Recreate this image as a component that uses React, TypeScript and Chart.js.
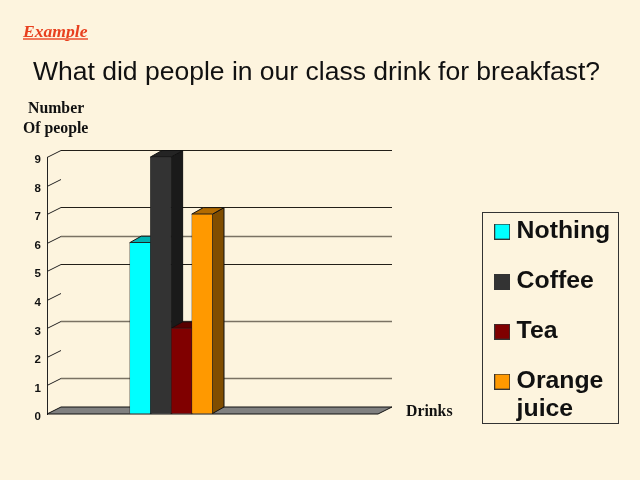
import React, { useEffect, useRef } from "react";
import { Chart, registerables } from "chart.js";

Chart.register(...registerables);

const slots = ["", "Drinks", "", ""];
const nothingValues = [null, 6, null, null];
const coffeeValues = [null, 9, null, null];
const teaValues = [null, 3, null, null];
const juiceValues = [null, 7, null, null];
const seriesNames = ["Nothing", "Coffee", "Tea", ["Orange", "juice"]];
const frontColors = ["#00FFFF", "#333333", "#800000", "#FF9900"];
const sideColors = ["#008080", "#1A1A1A", "#400000", "#804D00"];
const topColors = ["#00B3B3", "#242424", "#590000", "#B36B00"];
const backLineTicks = [1, 3, 5, 6, 7, 9];
const greyBackLineTicks = [1, 3, 6];
const yTicks = [0, 1, 2, 3, 4, 5, 6, 7, 8, 9];

const PAGE = "#FDF4DE";
const WALL_DX = 14;
const WALL_DY = 7;
const BAR_DX = 11.5;
const BAR_DY = 6.5;
const CHART_RIGHT = 378;

function swatch(color: string) {
  const c = document.createElement("canvas");
  c.width = 16;
  c.height = 16;
  const x = c.getContext("2d")!;
  x.fillStyle = color;
  x.fillRect(0, 0, 16, 16);
  x.strokeStyle = "#333";
  x.strokeRect(0.5, 0.5, 15, 15);
  return c;
}

function poly(ctx: CanvasRenderingContext2D, pts: number[][], fill: string) {
  ctx.beginPath();
  pts.forEach(([x, y], i) => (i ? ctx.lineTo(x, y) : ctx.moveTo(x, y)));
  ctx.closePath();
  ctx.fillStyle = fill;
  ctx.fill();
  ctx.strokeStyle = "#111";
  ctx.lineWidth = 1;
  ctx.stroke();
}

const scene = {
  id: "scene",
  beforeLayout(chart: any) {
    const l = chart.legend;
    if (l && !l.__patched) {
      l.__patched = true;
      const fit = l.fit;
      l.fit = function () {
        fit.call(this);
        this.width = 640 - CHART_RIGHT;
      };
    }
  },
  afterLayout(chart: any) {
    const l = chart.legend;
    l.left = 475;
    l.right = 640;
    l.top = 194;
    l.bottom = 460;
  },
  beforeDatasetsDraw(chart: any) {
    const ctx: CanvasRenderingContext2D = chart.ctx;
    const { left, right } = chart.chartArea;
    const y = chart.scales.y;
    const y0 = y.getPixelForValue(0);
    ctx.save();
    // floor
    poly(ctx, [[left, y0], [right, y0], [right + WALL_DX, y0 - WALL_DY], [left + WALL_DX, y0 - WALL_DY]], "#808080");
    // wall lines
    yTicks.slice(1).forEach((t) => {
      const py = Math.round(y.getPixelForValue(t)) + 0.5;
      ctx.strokeStyle = "#222";
      ctx.lineWidth = 1;
      ctx.beginPath();
      ctx.moveTo(left, py);
      ctx.lineTo(left + WALL_DX, py - WALL_DY);
      ctx.stroke();
      if (backLineTicks.includes(t)) {
        const grey = greyBackLineTicks.includes(t);
        ctx.strokeStyle = grey ? "#7A7263" : "#221F18";
        ctx.lineWidth = grey ? 1.4 : 1;
        ctx.beginPath();
        ctx.moveTo(left + WALL_DX, py - WALL_DY);
        ctx.lineTo(right + WALL_DX, py - WALL_DY);
        ctx.stroke();
      }
    });
    // bar side and top faces
    chart.data.datasets.forEach((_: any, i: number) => {
      const el = chart.getDatasetMeta(i).data[1];
      const x0 = el.x - el.width / 2;
      const x1 = el.x + el.width / 2;
      poly(ctx, [[x1, el.y], [x1 + BAR_DX, el.y - BAR_DY], [x1 + BAR_DX, el.base - BAR_DY], [x1, el.base]], sideColors[i]);
      poly(ctx, [[x0, el.y], [x1, el.y], [x1 + BAR_DX, el.y - BAR_DY], [x0 + BAR_DX, el.y - BAR_DY]], topColors[i]);
    });
    ctx.restore();
  },
  afterDraw(chart: any) {
    const ctx: CanvasRenderingContext2D = chart.ctx;
    ctx.save();
    ctx.textBaseline = "alphabetic";
    ctx.textAlign = "left";
    ctx.fillStyle = "#E8401F";
    ctx.font = "italic bold 17.6px 'Liberation Serif'";
    ctx.fillText("Example", 23, 37);
    ctx.fillStyle = "#F0785A";
    ctx.fillRect(23, 38, 65, 2);
    ctx.fillStyle = "#111";
    ctx.font = "26.5px 'Liberation Sans'";
    ctx.fillText("What did people in our class drink for breakfast?", 33, 80);
    ctx.font = "bold 15.8px 'Liberation Serif'";
    ctx.fillText("Number", 28, 113);
    ctx.fillText("Of people", 23, 133);
    ctx.fillText("Drinks", 406, 416);
    ctx.strokeStyle = "#333";
    ctx.lineWidth = 1;
    ctx.strokeRect(482.5, 212.5, 136, 211);
    ctx.restore();
  },
};

export default function App() {
  const ref = useRef<HTMLCanvasElement>(null);
  useEffect(() => {
    document.body.style.margin = "0";
    document.body.style.background = PAGE;
    const seriesValues = [nothingValues, coffeeValues, teaValues, juiceValues];
    const chart = new Chart(ref.current!, {
      type: "bar",
      plugins: [scene],
      data: {
        labels: slots,
        datasets: seriesValues.map((values, i) => ({
          label: Array.isArray(seriesNames[i]) ? (seriesNames[i] as string[]).join(" ") : (seriesNames[i] as string),
          data: values,
          backgroundColor: frontColors[i],
          borderColor: "#222",
          borderWidth: 0.6,
          categoryPercentage: 1,
          barPercentage: 1,
        })),
      },
      options: {
        animation: false,
        responsive: false,
        devicePixelRatio: 1,
        layout: { padding: { top: 157, bottom: 66, left: 0, right: 0 } },
        scales: {
          x: { display: false },
          y: {
            min: 0,
            max: 9,
            afterFit: (s: any) => {
              s.width = 47;
            },
            grid: { drawOnChartArea: false, drawTicks: false },
            border: { display: true, color: "#222" },
            ticks: {
              stepSize: 1,
              padding: 6,
              labelOffset: 3,
              color: "#111",
              font: { family: "'Liberation Sans'", size: 11.5, weight: "bold" },
            },
          },
        },
        plugins: {
          title: { display: false },
          tooltip: { enabled: false },
          legend: {
            display: true,
            position: "right",
            align: "start",
            labels: {
              usePointStyle: true,
              pointStyleWidth: 4,
              padding: 25.2,
              color: "#111",
              font: { family: "'Liberation Sans'", size: 24.8, weight: "bold", lineHeight: 1.12 },
              generateLabels: () =>
                seriesNames.map((name, i) => ({
                  text: name as any,
                  pointStyle: swatch(frontColors[i]),
                  fontColor: "#111",
                  datasetIndex: i,
                })),
            },
          },
        },
      },
    } as any);
    return () => chart.destroy();
  }, []);
  return <canvas ref={ref} width={640} height={480} style={{ display: "block" }} />;
}
